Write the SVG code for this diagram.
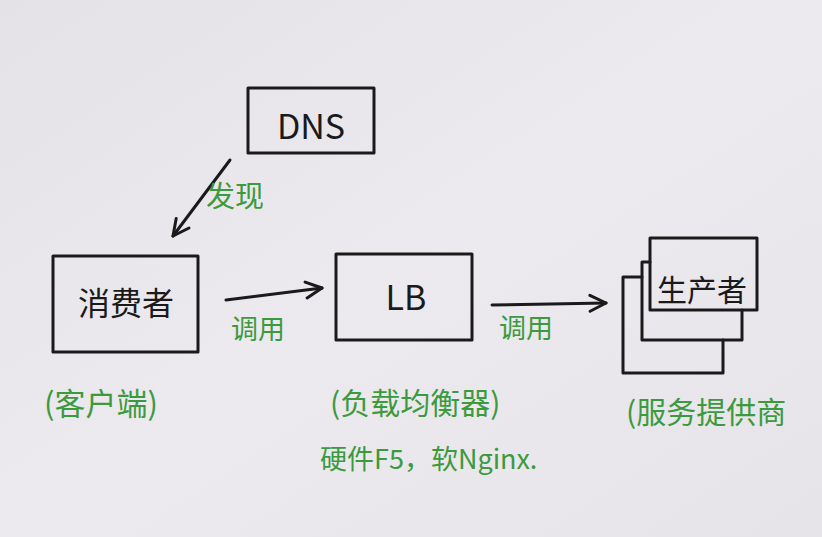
<svg xmlns="http://www.w3.org/2000/svg" width="822" height="537" viewBox="0 0 822 537">
<defs>
<linearGradient id="bg" x1="0" y1="0" x2="1" y2="1">
<stop offset="0" stop-color="#e4e2e6"/>
<stop offset="0.5" stop-color="#eceaee"/>
<stop offset="1" stop-color="#e6e4e8"/>
</linearGradient>
<marker id="open" viewBox="0 0 20 20" refX="18" refY="10" markerWidth="20" markerHeight="20" markerUnits="userSpaceOnUse" orient="auto">
<path d="M2,2 L18,10 L2,18" fill="none" stroke="#1a1a1a" stroke-width="3" stroke-linecap="round" stroke-linejoin="round"/>
</marker>
</defs>
<style>
.box{fill:none;stroke:#1a1a1a;stroke-width:3;stroke-linecap:round;stroke-linejoin:round}
.ln{fill:none;stroke:#1a1a1a;stroke-width:3;stroke-linecap:round}
.bk{font-family:"Noto Sans CJK SC","Noto Sans",sans-serif;fill:#1a1a1a;text-anchor:middle;dominant-baseline:central}
.gr{font-family:"Noto Sans CJK SC","Noto Sans",sans-serif;fill:#3b9a3e;dominant-baseline:central}
</style>
<rect width="822" height="537" fill="url(#bg)"/>
<g id="dns">
<rect class="box" x="248" y="88" width="126" height="65"/>
<text class="bk" x="311" y="124" font-size="34">DNS</text>
</g>
<g id="consumer">
<rect class="box" x="53" y="256" width="145" height="96"/>
<text class="bk" x="126" y="301" font-size="32">消费者</text>
</g>
<g id="lb">
<rect class="box" x="336" y="254" width="136" height="86"/>
<text class="bk" x="406" y="295" font-size="34">LB</text>
</g>
<g id="producer">
<path class="box" d="M642,277 L623,277 L623,373 L723,373 L723,340"/>
<path class="box" d="M650,262 L642,262 L642,340 L742,340 L742,310"/>
<rect class="box" x="650" y="238" width="107" height="72"/>
<text class="bk" x="702" y="288" font-size="30">生产者</text>
</g>
<g id="connectors">
<line class="ln" x1="230" y1="160" x2="173" y2="236" marker-end="url(#open)"/>
<line class="ln" x1="226" y1="300" x2="322" y2="288" marker-end="url(#open)"/>
<line class="ln" x1="492" y1="305" x2="606" y2="303" marker-end="url(#open)"/>
</g>
<g id="labels">
<text class="gr" x="206" y="194" font-size="29">发现</text>
<text class="gr" x="231" y="327" font-size="27">调用</text>
<text class="gr" x="499" y="326" font-size="27">调用</text>
<text class="gr" x="44" y="401" font-size="31">(客户端)</text>
<text class="gr" x="330" y="401" font-size="30">(负载均衡器)</text>
<text class="gr" x="320" y="457" font-size="27">硬件F5，软Nginx.</text>
<text class="gr" x="626" y="410" font-size="30">(服务提供商</text>
</g>
</svg>
